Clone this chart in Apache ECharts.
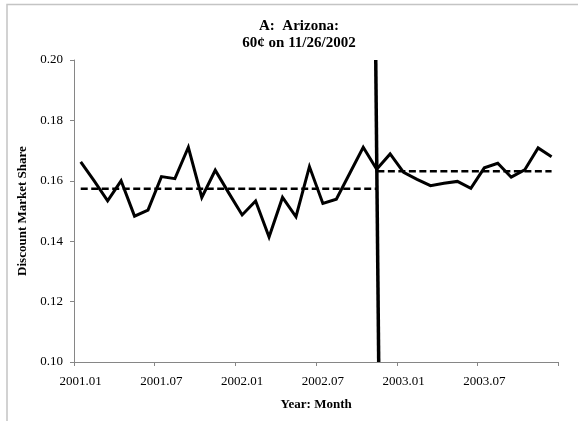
<!DOCTYPE html>
<html>
<head>
<meta charset="utf-8">
<script src="https://cdn.jsdelivr.net/npm/echarts@6/dist/echarts.min.js"></script>
<style>
html,body{margin:0;padding:0;background:#fff;}
#chart{width:578px;height:421px;}
</style>
</head>
<body>
<div id="chart"></div>
<script>
var categories = [
  "2001.01","2001.02","2001.03","2001.04","2001.05","2001.06",
  "2001.07","2001.08","2001.09","2001.10","2001.11","2001.12",
  "2002.01","2002.02","2002.03","2002.04","2002.05","2002.06",
  "2002.07","2002.08","2002.09","2002.10","2002.11","2002.12",
  "2003.01","2003.02","2003.03","2003.04","2003.05","2003.06",
  "2003.07","2003.08","2003.09","2003.10","2003.11","2003.12"
];
var shareValues = [
  0.1663,0.1600,0.1534,0.1600,0.1483,0.1503,
  0.1614,0.1607,0.1711,0.1545,0.1635,0.1560,
  0.1487,0.1533,0.1414,0.1545,0.1481,0.1647,
  0.1525,0.1539,0.1625,0.1711,0.1638,0.1689,
  0.1628,0.1605,0.1584,0.1592,0.1598,0.1575,
  0.1643,0.1658,0.1612,0.1636,0.1709,0.1680
];
// mean lines: [monthIndex, value] in month-index units
var preMean = [[0.5, 0.1574], [22.5, 0.1574]];
var postMean = [[22.55, 0.1632], [35.5, 0.1632]];
// tax change marker line (month-index units)
var taxLine = [[22.43, 0.20], [22.65, 0.10]];
var yTicks = {min: 0.10, max: 0.20, interval: 0.02};

var font = "'Liberation Serif', 'Times New Roman', serif";
var axisGray = '#868686';

var chart = echarts.init(document.getElementById('chart'));
chart.setOption({
  animation: false,
  backgroundColor: '#fff',
  textStyle: {fontFamily: font, color: '#000'},
  graphic: [{
    type: 'rect',
    shape: {x: 7, y: 4.5, width: 700, height: 600},
    style: {fill: 'none', stroke: '#c4c4c4', lineWidth: 1.5},
    silent: true
  }],
  title: {
    text: 'A:  Arizona:\n60\u00a2 on 11/26/2002',
    left: 294,
    top: 13,
    textAlign: 'center',
    textStyle: {fontFamily: font, fontSize: 15, fontWeight: 'bold', color: '#000', lineHeight: 17}
  },
  grid: {left: 74, right: 19.7, top: 60, bottom: 59, containLabel: false},
  xAxis: [{
    type: 'category',
    data: categories,
    boundaryGap: true,
    name: 'Year: Month',
    nameLocation: 'middle',
    nameGap: 36,
    nameTextStyle: {fontFamily: font, fontSize: 13, fontWeight: 'bold', color: '#000'},
    axisLine: {lineStyle: {color: axisGray, width: 1}},
    axisTick: {show: true, interval: 5, length: 4, inside: false, lineStyle: {color: axisGray}},
    axisLabel: {interval: 5, margin: 13, fontFamily: font, fontSize: 13, color: '#000'},
    splitLine: {show: false}
  }, {
    type: 'value',
    min: 0,
    max: 36,
    show: false,
    splitLine: {show: false}
  }],
  yAxis: {
    type: 'value',
    min: yTicks.min,
    max: yTicks.max,
    interval: yTicks.interval,
    name: 'Discount Market Share',
    nameLocation: 'middle',
    nameGap: 40,
    nameTextStyle: {fontFamily: font, fontSize: 13, fontWeight: 'bold', color: '#000'},
    axisLine: {show: true, lineStyle: {color: axisGray, width: 1}},
    axisTick: {show: true, length: 4, lineStyle: {color: axisGray}},
    axisLabel: {margin: 11, fontFamily: font, fontSize: 13, color: '#000',
      formatter: function (v) { return v.toFixed(2); }},
    splitLine: {show: false}
  },
  series: [{
    type: 'line',
    data: shareValues,
    xAxisIndex: 0,
    showSymbol: false,
    symbol: 'none',
    lineStyle: {color: '#000', width: 3, join: 'miter'},
    z: 3
  }, {
    type: 'line',
    data: preMean,
    xAxisIndex: 1,
    symbol: 'none',
    lineStyle: {color: '#000', width: 2.5, type: [7, 3.5]},
    z: 2
  }, {
    type: 'line',
    data: postMean,
    xAxisIndex: 1,
    symbol: 'none',
    lineStyle: {color: '#000', width: 2.5, type: [7, 3.5]},
    z: 2
  }, {
    type: 'line',
    data: taxLine,
    xAxisIndex: 1,
    symbol: 'none',
    lineStyle: {color: '#000', width: 3.5},
    z: 4
  }]
});
</script>
</body>
</html>
